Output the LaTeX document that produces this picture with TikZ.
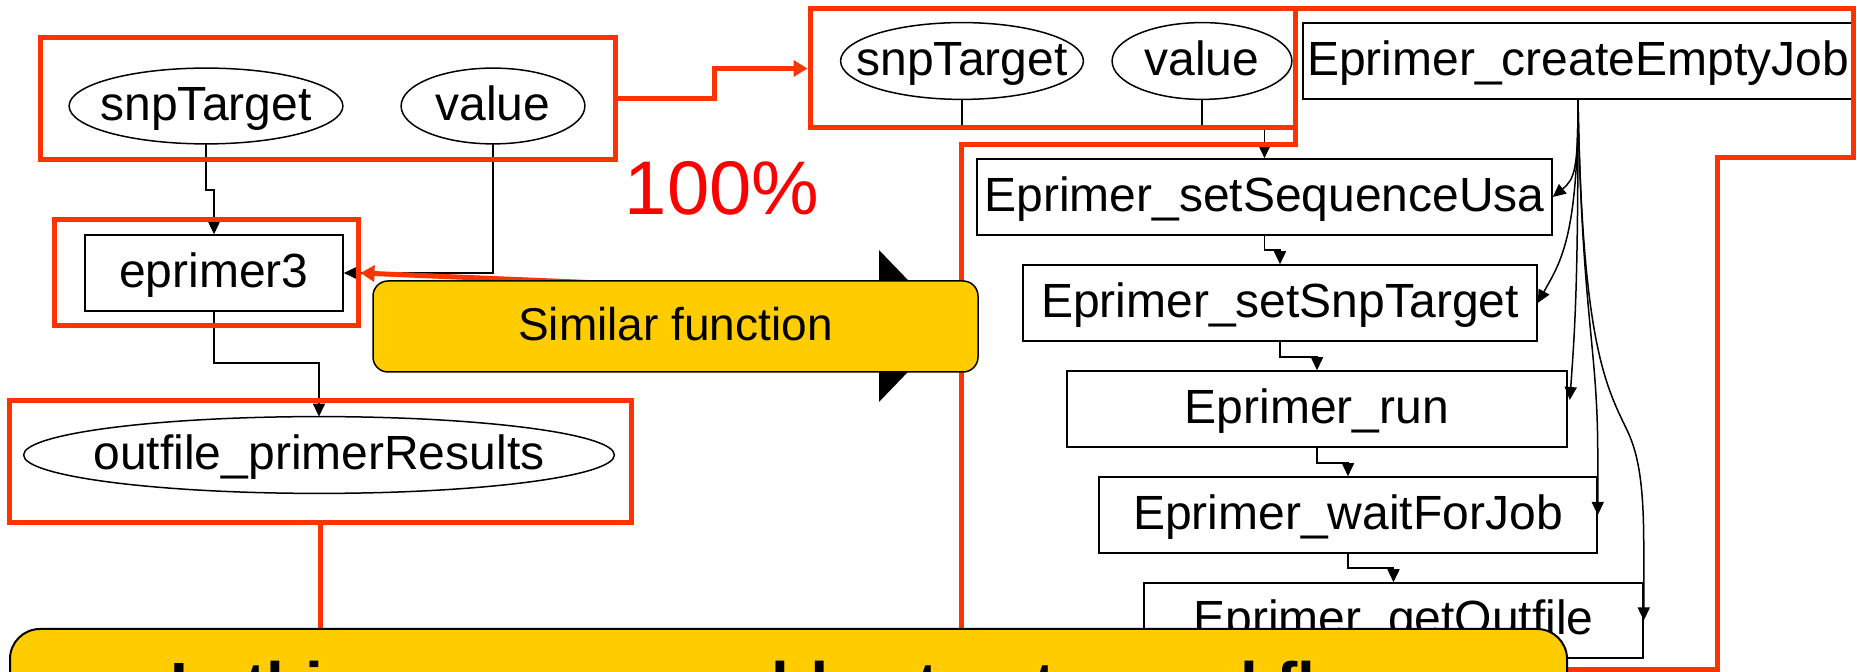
\documentclass[tikz,border=0pt]{standalone}
\usepackage{fontspec}
\setmainfont{Liberation Sans}
\usetikzlibrary{arrows.meta,shapes.geometric,calc}

\definecolor{hlred}{RGB}{255,51,0}
\definecolor{pctred}{RGB}{255,0,0}
\definecolor{calloutyellow}{RGB}{255,204,0}

\tikzset{
  lbl/.style={font=\fontsize{24}{28}\selectfont, inner sep=0pt, text height=17.2pt, text depth=3pt},
  boxnode/.style={lbl, draw, line width=0.75pt, rectangle},
  ellnode/.style={lbl, rectangle},
  redframe/.style={draw=hlred, line width=2.5pt, rectangle, inner sep=0pt},
  conn/.style={line width=0.75pt, -{Triangle[length=6.5pt,width=6pt]}},
  plainline/.style={line width=0.75pt},
  redarrow/.style={draw=hlred, line width=2.5pt, -{Triangle[length=7pt,width=8pt]}},
  redline/.style={draw=hlred, line width=2.5pt},
}

% outline an ellipse inscribed in the bounding box of a node
\newcommand{\ringnode}[1]{%
  \draw[line width=0.75pt] let \p1=($(#1.east)-(#1.center)$), \p2=($(#1.north)-(#1.center)$)
    in (#1.center) ellipse [x radius=\x1, y radius=\y2];}

\begin{document}
\begin{tikzpicture}[x=0.5pt,y=-0.5pt]
\useasboundingbox (0,0) rectangle (1857,672);

% ---- left workflow: eprimer3 ----
\node[ellnode, minimum width=136.5pt, minimum height=37.5pt] (snpA) at (206,106) {snpTarget};
\node[ellnode, minimum width=91.5pt, minimum height=37.5pt] (valA) at (493,106) {value};
\node[boxnode, minimum width=129pt, minimum height=38pt] (e3) at (214,273) {eprimer3};
\node[ellnode, minimum width=295pt, minimum height=38pt] (outf) at (319,455) {outfile\_primerResults};
\ringnode{snpA}
\ringnode{valA}
\ringnode{outf}

\coordinate (y190) at (0,190);
\coordinate (y363) at (0,363);
\draw[conn] (snpA.south) -- (snpA.south |- y190) -| (e3.north);
\draw[conn] (valA.south) |- (e3.east);
\draw[conn] (e3.south) -- (e3.south |- y363) -| (outf.north);

% ---- right workflow: web service calls ----
\node[ellnode, minimum width=121pt, minimum height=38pt] (snpB) at (962,61) {snpTarget};
\node[ellnode, minimum width=89.5pt, minimum height=38pt] (valB) at (1202,61) {value};
\ringnode{snpB}
\ringnode{valB}
\node[boxnode, minimum width=275pt, minimum height=38pt] (cej) at (1578,61) {Eprimer\_createEmptyJob};
\node[boxnode, minimum width=287.5pt, minimum height=38pt] (seq) at (1264.5,197) {Eprimer\_setSequenceUsa};
\node[boxnode, minimum width=257pt, minimum height=38pt] (snpt) at (1280,303) {Eprimer\_setSnpTarget};
\node[boxnode, minimum width=250pt, minimum height=38pt] (run) at (1317,409) {Eprimer\_run};
\node[boxnode, minimum width=249pt, minimum height=38pt] (wait) at (1348,515) {Eprimer\_waitForJob};
\node[boxnode, minimum width=249.5pt, minimum height=37.5pt] (get) at (1393.5,620.5) {Eprimer\_getOutfile};

\coordinate (y128) at (0,128);
\coordinate (y250) at (0,250);
\coordinate (y357) at (0,357);
\coordinate (y463) at (0,463);
\coordinate (y568) at (0,568);
\coordinate (y455) at (0,455);
\coordinate (y547) at (0,547);
\coordinate (bend) at (1627,430);

\draw[plainline] (snpB.south) |- (seq.north |- y128);
\draw[plainline] (valB.south) -- (valB.south |- y128);
\draw[conn] (seq.north |- y128) -- (seq.north);
\draw[conn] (seq.south) -- (seq.south |- y250) -| (snpt.north);
\draw[conn] (snpt.south) -- (snpt.south |- y357) -| (run.north);
\draw[conn] (run.south) -- (run.south |- y463) -| (wait.north);
\draw[conn] (wait.south) -- (wait.south |- y568) -| (get.north);

\draw[conn] (cej.south) .. controls +(0,70) and +(22,-18) .. (seq.east);
\draw[conn] (cej.south) .. controls +(0,140) and +(22,-40) .. (snpt.east);
\draw[conn] (cej.south) .. controls +(0,170) and +(6,-80) .. ($(run.east)+(2,-9)$);
\draw[conn] (cej.south) .. controls +(4,220) and +(0,-110) .. (wait.east |- y455) -- (wait.east);
\draw[conn] (cej.south) .. controls +(4,240) and +(-22,-45) .. (bend)
   .. controls +(12,25) and +(0,-60) .. (get.east |- y547) -- (get.east);

% ---- red highlight frames ----
\node[redframe, minimum width=287.5pt, minimum height=61pt] (redA) at (327.5,99) {};
\node[redframe, minimum width=152pt, minimum height=53pt] (redE3) at (206,273) {};
\node[redframe, minimum width=311pt, minimum height=61pt] (redO) at (320,462) {};
\node[redframe, minimum width=242.5pt, minimum height=59.5pt] (redB) at (1052.5,68.5) {};
\draw[redline, line join=miter] (961,145) -- (1295,145) -- (1295,9) -- (1853,9) -- (1853,158)
   -- (1717,158) -- (1717,670) -- (961,670) -- cycle;

\coordinate (rj) at (714,99);
\draw[redarrow] (redA.east) -- (rj) |- (redB.west);
\coordinate (rs) at (600,283);
\draw[redarrow] (rs) -- (redE3.east);
\coordinate (ob) at (320,640);
\draw[redline] (redO.south) -- (ob);

% ---- callout ----
\fill (879,250) -- (879,402) -- (952,326) -- cycle;
\node[draw, line width=0.75pt, fill=calloutyellow, rounded corners=7.5pt,
      minimum width=302.5pt, minimum height=45.5pt, inner sep=0pt,
      text height=16.5pt, text depth=2.5pt,
      font=\fontsize{23}{27}\selectfont] (sim) at (675.5,326.5) {Similar function};

\node[inner sep=0pt, anchor=base, text=pctred, font=\fontsize{38}{44}\selectfont] (pct) at (722,215) {100\%};

% ---- bottom banner ----
\node[draw, line width=1pt, fill=calloutyellow, rounded corners=15pt,
      minimum width=778.5pt, minimum height=70pt, inner sep=0pt, anchor=north west] (banner) at (9,628) {};
\node[anchor=base west, inner sep=0pt, font=\fontsize{32}{38}\selectfont\bfseries] (btext) at (170,707)
  {In this case, we could extract a workflow};
\end{tikzpicture}
\end{document}
